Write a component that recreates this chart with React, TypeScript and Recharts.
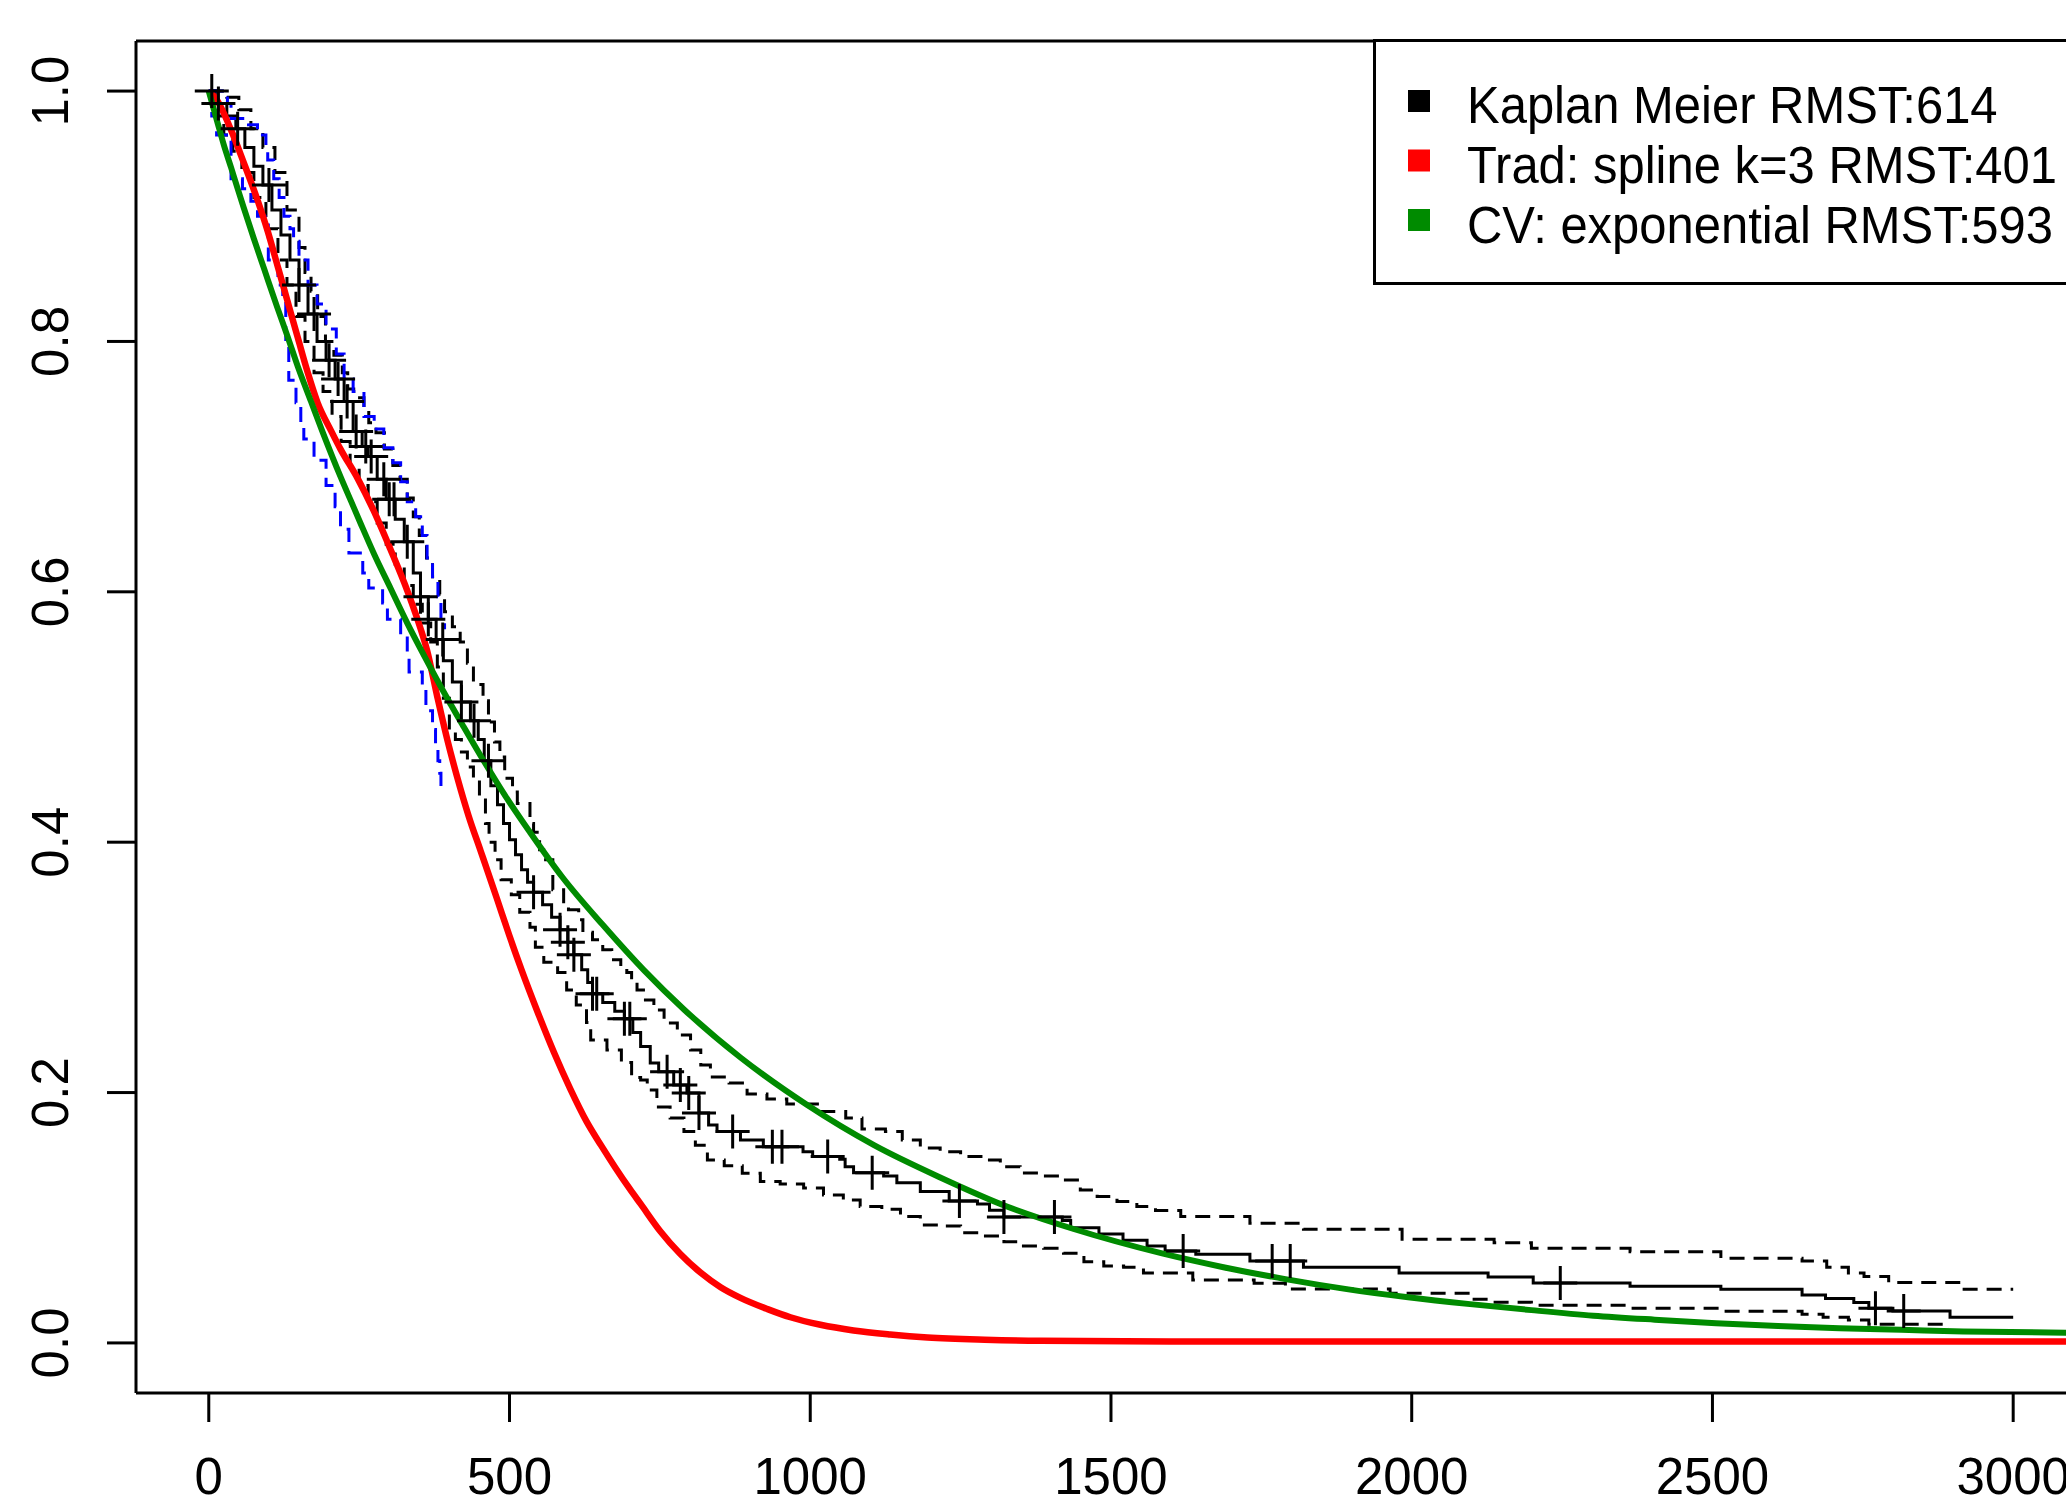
import { ComposedChart, Line, ReferenceLine, Scatter, XAxis, YAxis } from 'recharts'

type Row = [number, number]
const toPoints = (rows: Row[]) => rows.map(([t, s]) => ({ t, s }))

const FONT = '"Liberation Sans", Arial, sans-serif'

const xTicks = [0, 500, 1000, 1500, 2000, 2500, 3000]
const yTicks = [0, 0.2, 0.4, 0.6, 0.8, 1]
const yTickLabels = ['0.0', '0.2', '0.4', '0.6', '0.8', '1.0']

const legendItems = [
  { label: 'Kaplan Meier RMST:614', color: '#000000' },
  { label: 'Trad: spline k=3 RMST:401', color: '#ff0000' },
  { label: 'CV: exponential RMST:593', color: '#008b00' },
]

// Kaplan-Meier estimate (step function)
const kmSteps: Row[] = [
  [0, 1.0], [15, 0.99], [30, 0.98], [45, 0.97], [60, 0.955], [75, 0.94], [90, 0.925], [105, 0.905],
  [120, 0.885], [135, 0.865], [150, 0.845], [165, 0.822], [180, 0.8], [195, 0.785], [210, 0.77],
  [225, 0.752], [240, 0.728], [255, 0.716], [265, 0.708], [280, 0.69], [295, 0.674], [310, 0.658],
  [325, 0.64], [340, 0.615], [352, 0.596], [365, 0.578], [378, 0.562], [390, 0.545], [405, 0.528],
  [420, 0.512], [435, 0.497], [448, 0.482], [458, 0.465], [469, 0.445], [480, 0.43], [490, 0.415],
  [500, 0.402], [510, 0.39], [520, 0.378], [530, 0.368], [540, 0.36], [555, 0.35], [570, 0.34],
  [584, 0.33], [597, 0.32], [607, 0.31], [620, 0.298], [630, 0.288], [638, 0.279], [655, 0.272],
  [675, 0.265], [691, 0.259], [705, 0.248], [718, 0.2367], [734, 0.2236], [748, 0.2167], [773, 0.206],
  [795, 0.1997], [815, 0.1837], [831, 0.174], [845, 0.1688], [884, 0.1621], [922, 0.1568],
  [988, 0.1528], [1004, 0.149], [1049, 0.1467], [1058, 0.1408], [1072, 0.136], [1122, 0.1334],
  [1144, 0.128], [1183, 0.1209], [1231, 0.1134], [1278, 0.111], [1298, 0.106], [1322, 0.1006],
  [1419, 0.0977], [1433, 0.092], [1480, 0.087], [1520, 0.082], [1560, 0.0775], [1590, 0.0735],
  [1641, 0.0708], [1731, 0.0655], [1820, 0.0604], [1979, 0.0559], [2127, 0.0527], [2202, 0.0479],
  [2363, 0.0453], [2514, 0.0429], [2649, 0.0383], [2688, 0.0354], [2735, 0.0322], [2760, 0.0277],
  [2800, 0.0256], [2895, 0.0205], [3000, 0.0205],
]

const kmUpper: Row[] = [
  [0, 1.0], [30, 0.995], [50, 0.985], [70, 0.97], [90, 0.955], [110, 0.935], [130, 0.905], [150, 0.875],
  [160, 0.855], [170, 0.84], [181, 0.82], [194, 0.8], [208, 0.789], [222, 0.775], [231, 0.762],
  [241, 0.755], [258, 0.745], [266, 0.735], [278, 0.727], [292, 0.714], [306, 0.701], [318, 0.69],
  [330, 0.675], [340, 0.66], [350, 0.645], [362, 0.627], [372, 0.612], [384, 0.598], [392, 0.584],
  [405, 0.572], [418, 0.56], [430, 0.543], [440, 0.526], [456, 0.513], [465, 0.496], [475, 0.48],
  [484, 0.468], [492, 0.451], [505, 0.44], [513, 0.431], [534, 0.415], [540, 0.408], [550, 0.394],
  [560, 0.386], [572, 0.362], [590, 0.351], [598, 0.346], [615, 0.338], [622, 0.328], [638, 0.322],
  [655, 0.314], [670, 0.306], [685, 0.3], [695, 0.296], [703, 0.29], [712, 0.282], [726, 0.274],
  [740, 0.266], [757, 0.2556], [779, 0.246], [801, 0.234], [818, 0.222], [834, 0.2124], [865, 0.2077],
  [895, 0.1989], [928, 0.1949], [961, 0.1909], [1017, 0.1848], [1059, 0.1797], [1086, 0.1709],
  [1125, 0.1688], [1153, 0.1621], [1183, 0.1557], [1216, 0.1528], [1250, 0.149], [1288, 0.1462],
  [1316, 0.1408], [1349, 0.1358], [1383, 0.1334], [1421, 0.1302], [1449, 0.1222], [1477, 0.1169],
  [1510, 0.1129], [1543, 0.1089], [1574, 0.1057], [1616, 0.1009], [1731, 0.0956], [1820, 0.0908],
  [1984, 0.0828], [2137, 0.0801], [2199, 0.0756], [2363, 0.0729], [2514, 0.0676], [2649, 0.0655],
  [2690, 0.0604], [2726, 0.0559], [2752, 0.053], [2793, 0.0482], [2914, 0.0429], [3000, 0.0429],
]

const kmLower: Row[] = [
  [0, 1.0], [10, 0.98], [25, 0.965], [40, 0.952], [55, 0.935], [75, 0.915], [95, 0.89], [115, 0.865],
  [130, 0.845], [145, 0.82], [160, 0.8], [175, 0.775], [190, 0.76], [205, 0.74], [220, 0.72],
  [235, 0.7], [250, 0.685], [265, 0.672], [280, 0.655], [295, 0.638], [310, 0.622], [325, 0.605],
  [340, 0.59], [355, 0.575], [369, 0.56], [380, 0.54], [390, 0.515], [400, 0.49], [410, 0.482],
  [420, 0.472], [430, 0.46], [440, 0.45], [450, 0.436], [460, 0.415], [466, 0.4], [476, 0.386],
  [486, 0.37], [503, 0.358], [517, 0.344], [534, 0.332], [543, 0.316], [557, 0.304], [580, 0.296],
  [595, 0.282], [611, 0.27], [628, 0.256], [635, 0.242], [662, 0.234], [686, 0.224], [703, 0.212],
  [718, 0.21], [729, 0.202], [745, 0.1885], [767, 0.1797], [790, 0.1688], [809, 0.158], [829, 0.1462],
  [857, 0.1416], [887, 0.1355], [917, 0.1289], [950, 0.127], [989, 0.1238], [1022, 0.1182],
  [1055, 0.1142], [1083, 0.1089], [1119, 0.1068], [1150, 0.1009], [1183, 0.0942], [1216, 0.0934],
  [1250, 0.0881], [1288, 0.0855], [1322, 0.0809], [1349, 0.0775], [1388, 0.0756], [1421, 0.0716],
  [1455, 0.0649], [1488, 0.0615], [1521, 0.0604], [1554, 0.0559], [1636, 0.0503], [1738, 0.0477],
  [1790, 0.0431], [1964, 0.0397], [2097, 0.0349], [2127, 0.0325], [2199, 0.0301], [2363, 0.0277],
  [2514, 0.0253], [2649, 0.0229], [2684, 0.0205], [2726, 0.0184], [2760, 0.015], [2885, 0.0122],
  [2892, 0.0122],
]

const censorMarks: Row[] = [
  [5, 1.0], [16, 0.99], [48, 0.97], [100, 0.925], [150, 0.845], [175, 0.822], [200, 0.785], [215, 0.77],
  [230, 0.752], [245, 0.728], [261, 0.716], [270, 0.708], [291, 0.69], [300, 0.674], [308, 0.674],
  [330, 0.64], [352, 0.596], [365, 0.578], [389, 0.562], [420, 0.512], [441, 0.497], [465, 0.465],
  [540, 0.36], [584, 0.33], [597, 0.32], [607, 0.31], [638, 0.279], [645, 0.279], [691, 0.259],
  [700, 0.259], [762, 0.2167], [784, 0.206], [798, 0.1997], [815, 0.1837], [871, 0.1688], [937, 0.1568],
  [953, 0.1568], [1029, 0.149], [1103, 0.136], [1248, 0.1134], [1322, 0.1006], [1406, 0.1006],
  [1620, 0.0735], [1768, 0.0655], [1798, 0.0655], [2247, 0.0479], [2771, 0.0277], [2818, 0.0256],
]

// blue dashed band (early follow-up only)
const blueUpper: Row[] = [
  [0, 1.0], [31, 0.99], [37, 0.978], [66, 0.973], [81, 0.965], [95, 0.955], [98, 0.945], [108, 0.93],
  [117, 0.915], [125, 0.9], [135, 0.89], [141, 0.88], [150, 0.865], [165, 0.845], [180, 0.83],
  [195, 0.81], [212, 0.79], [225, 0.77], [240, 0.76], [258, 0.74], [275, 0.73], [291, 0.715],
  [306, 0.703], [319, 0.688], [330, 0.672], [344, 0.66], [355, 0.645], [363, 0.627], [372, 0.612],
  [381, 0.596], [386, 0.578], [392, 0.57],
]

const blueLower: Row[] = [
  [0, 1.0], [5, 0.98], [13, 0.965], [37, 0.93], [56, 0.922], [70, 0.912], [81, 0.9], [99, 0.865],
  [115, 0.845], [123, 0.833], [128, 0.8], [133, 0.769], [145, 0.751], [153, 0.731], [158, 0.722],
  [175, 0.705], [195, 0.685], [210, 0.668], [219, 0.65], [233, 0.631], [256, 0.615], [266, 0.603],
  [289, 0.591], [297, 0.578], [319, 0.565], [330, 0.55], [333, 0.536], [355, 0.522], [361, 0.505],
  [372, 0.49], [377, 0.474], [381, 0.465], [384, 0.455], [386, 0.44], [390, 0.44],
]

const splineFit: Row[] = [
  [0, 1], [12, 0.994], [37, 0.969], [58, 0.943], [81, 0.913], [98, 0.888], [114, 0.861], [131, 0.832],
  [148, 0.803], [164, 0.776], [181, 0.751], [203, 0.729], [219, 0.714], [247, 0.691], [274, 0.665],
  [302, 0.634], [330, 0.601], [347, 0.578], [363, 0.553], [380, 0.516], [397, 0.481], [413, 0.452],
  [432, 0.421], [452, 0.393], [479, 0.355], [500, 0.325], [520, 0.298], [547, 0.264], [574, 0.232],
  [601, 0.203], [628, 0.177], [652, 0.158], [676, 0.14], [700, 0.123], [718, 0.111], [751, 0.089],
  [784, 0.071], [818, 0.056], [851, 0.0445], [884, 0.036], [929, 0.027], [967, 0.0205], [1017, 0.0145],
  [1072, 0.01], [1133, 0.0068], [1195, 0.0044], [1290, 0.0026], [1383, 0.0017], [1600, 0.0012],
  [3146, 0.0012],
]

const expFit: Row[] = [
  [0, 1], [15, 0.974], [25, 0.957], [37, 0.939], [48, 0.922], [58, 0.907], [75, 0.882], [92, 0.858],
  [114, 0.827], [131, 0.804], [148, 0.78], [170, 0.752], [189, 0.728], [219, 0.692], [236, 0.673],
  [253, 0.654], [275, 0.63], [302, 0.603], [330, 0.575], [358, 0.549], [386, 0.524], [424, 0.492],
  [457, 0.465], [493, 0.437], [534, 0.408], [588, 0.372], [655, 0.334], [723, 0.298], [791, 0.266],
  [884, 0.228], [995, 0.19], [1106, 0.158], [1217, 0.132], [1327, 0.109], [1438, 0.091],
  [1585, 0.0715], [1687, 0.0605], [1790, 0.051], [1892, 0.043], [1994, 0.0365], [2097, 0.031],
  [2199, 0.0262], [2302, 0.0218], [2404, 0.0186], [2506, 0.0158], [2609, 0.0135], [2711, 0.0117],
  [2814, 0.0105], [2917, 0.0092], [3146, 0.0078],
]

const XTick = ({ x, y, payload }: any) => (
  <text x={x} y={y + 70} textAnchor="middle" fontSize={51} fontFamily={FONT} fill="#000">
    {payload.value}
  </text>
)

const YTick = ({ x, y, payload }: any) => {
  const bx = x - 37
  const i = yTicks.indexOf(payload.value)
  return (
    <text x={bx} y={y} transform={`rotate(-90 ${bx} ${y})`} textAnchor="middle" fontSize={51} fontFamily={FONT} fill="#000">
      {i >= 0 ? yTickLabels[i] : payload.value}
    </text>
  )
}

const Cross = ({ cx, cy }: any) => (
  <path d={`M${cx - 17},${cy}H${cx + 17}M${cx},${cy - 17}V${cy + 17}`} stroke="#000" strokeWidth={3} fill="none" />
)

// legend drawn as an svg overlay so the box size is exact; it runs off the right edge like the original
const LegendBox = () => (
  <svg width={700} height={290} style={{ position: 'absolute', left: 1366, top: 0 }}>
    <rect x={8.5} y={40.5} width={760} height={243} fill="#fff" stroke="#000" strokeWidth={3} />
    {legendItems.map((item, i) => (
      <g key={item.label}>
        <rect x={42} y={90 + i * 59.5} width={22} height={22} fill={item.color} />
        <text
          transform={`translate(101 ${123 + i * 60}) scale(0.96 1)`}
          fontSize={51}
          fontFamily={FONT}
          fill="#000"
        >
          {item.label}
        </text>
      </g>
    ))}
  </svg>
)

export default function App() {
  const dashed = '15 9'
  return (
    <div style={{ position: 'absolute', left: 0, top: 0, width: 2066, height: 1503, overflow: 'hidden', background: '#fff' }}>
      <ComposedChart width={2110} height={1503} margin={{ top: 41, right: 9, bottom: 0, left: 0 }}>
        <XAxis
          type="number"
          dataKey="t"
          domain={[-121, 3146]}
          ticks={xTicks}
          allowDataOverflow
          height={110}
          tickSize={29}
          tick={XTick}
          tickLine={{ stroke: '#000', strokeWidth: 3 }}
          axisLine={{ stroke: '#000', strokeWidth: 3 }}
        />
        <YAxis
          type="number"
          domain={[-0.04, 1.04]}
          ticks={yTicks}
          allowDataOverflow
          width={136}
          tickSize={29}
          tick={YTick}
          tickLine={{ stroke: '#000', strokeWidth: 3 }}
          axisLine={{ stroke: '#000', strokeWidth: 3 }}
        />
        <ReferenceLine y={1.04} stroke="#000" strokeWidth={3} />
        <ReferenceLine x={3146} stroke="#000" strokeWidth={3} />

        <Line data={toPoints(kmUpper)} dataKey="s" type="stepAfter" stroke="#000" strokeWidth={3} strokeDasharray={dashed} dot={false} activeDot={false} isAnimationActive={false} />
        <Line data={toPoints(kmLower)} dataKey="s" type="stepAfter" stroke="#000" strokeWidth={3} strokeDasharray={dashed} dot={false} activeDot={false} isAnimationActive={false} />
        <Line data={toPoints(kmSteps)} dataKey="s" type="stepAfter" stroke="#000" strokeWidth={3} dot={false} activeDot={false} isAnimationActive={false} />
        <Scatter data={toPoints(censorMarks)} dataKey="s" shape={Cross} isAnimationActive={false} />

        <Line data={toPoints(blueUpper)} dataKey="s" type="stepAfter" stroke="#0000ff" strokeWidth={3} strokeDasharray={dashed} dot={false} activeDot={false} isAnimationActive={false} />
        <Line data={toPoints(blueLower)} dataKey="s" type="stepAfter" stroke="#0000ff" strokeWidth={3} strokeDasharray={dashed} dot={false} activeDot={false} isAnimationActive={false} />

        <Line data={toPoints(splineFit)} dataKey="s" type="monotone" stroke="#ff0000" strokeWidth={6.5} dot={false} activeDot={false} isAnimationActive={false} />
        <Line data={toPoints(expFit)} dataKey="s" type="monotone" stroke="#008b00" strokeWidth={6} dot={false} activeDot={false} isAnimationActive={false} />
      </ComposedChart>
      <LegendBox />
    </div>
  )
}
